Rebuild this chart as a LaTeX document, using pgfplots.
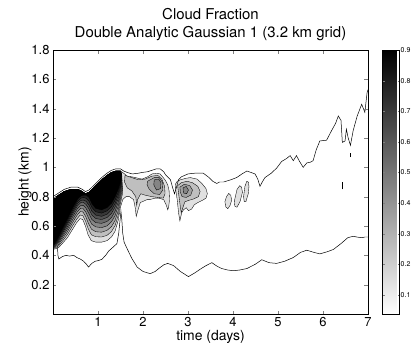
\documentclass[border=0pt]{standalone}
\usepackage{pgfplots}
\pgfplotsset{compat=1.18}
\usepackage{fontspec}
\setmainfont{TeX Gyre Heros}
\begin{document}
\begin{tikzpicture}
\useasboundingbox (-53bp,-35bp) rectangle (360bp,314bp);
\begin{axis}[
  at={(0,0)}, anchor=south west,
  scale only axis, width=315bp, height=264bp,
  xmin=0, xmax=7, ymin=0, ymax=1.8,
  xtick={1,2,3,4,5,6,7},
  ytick={0.2,0.4,0.6,0.8,1,1.2,1.4,1.6,1.8},
  tick align=inside, major tick length=3.5bp,
  axis on top,
  axis line style={line width=0.5pt},
  /pgf/number format/assume math mode=true,
  tick label style={font=\fontsize{13}{13}\selectfont},
  xlabel={time (days)}, ylabel={height (km)},
  xlabel style={at={(axis description cs:0.5,-0.087)}, anchor=center, inner sep=0pt, font=\fontsize{14}{14}\selectfont},
  ylabel style={at={(axis description cs:-0.089,0.5)}, anchor=center, inner sep=0pt, font=\fontsize{14}{14}\selectfont},
  title={Cloud Fraction\\Double Analytic Gaussian 1 (3.2 km grid)},
  title style={at={(axis description cs:0.5,1.072)}, anchor=center, align=center, inner sep=0pt, font=\fontsize{15}{18}\selectfont},
  colorbar,
  colormap={revgray}{gray(0cm)=(1); gray(1cm)=(0)},
  point meta min=0.038, point meta max=0.9,
  colorbar style={
    at={(parent axis.north east)}, anchor=north west, xshift=6bp,
    scale only axis, width=17bp, height=264bp,
    ytick={0.1,0.2,0.3,0.4,0.5,0.6,0.7,0.8,0.9},
    ytick pos=both, yticklabel pos=right,
    tick align=inside, major tick length=2bp,
    axis line style={line width=0.5pt},
    yticklabel style={font=\fontsize{7}{7}\selectfont, /pgf/number format/assume math mode=true, /pgf/number format/fixed, /pgf/number format/precision=1, /pgf/number format/fixed zerofill, inner sep=1bp},
  },
]
% ---- level 1 (light) : big structure + blob A
\addplot[draw=black, fill=black!12, line width=0.35pt] coordinates {
(0,0.785)(0.10,0.805)(0.25,0.835)(0.40,0.85)(0.55,0.85)(0.65,0.835)(0.72,0.82)(0.80,0.83)(0.90,0.86)(1.00,0.89)(1.10,0.92)(1.20,0.945)(1.30,0.965)(1.40,0.975)(1.50,0.975)
(1.57,0.96)(1.65,0.94)(1.76,0.935)(1.90,0.925)(1.98,0.92)(2.10,0.935)(2.20,0.955)(2.30,0.96)(2.38,0.955)(2.45,0.93)(2.50,0.91)(2.55,0.88)(2.58,0.84)(2.59,0.78)(2.57,0.73)(2.55,0.71)(2.52,0.74)(2.46,0.78)(2.35,0.79)(2.27,0.79)(2.15,0.78)(2.09,0.78)(1.98,0.765)(1.94,0.76)(1.88,0.70)(1.85,0.665)(1.83,0.72)(1.79,0.78)(1.70,0.80)(1.62,0.80)(1.55,0.78)
(1.50,0.73)(1.45,0.64)(1.38,0.565)(1.30,0.525)(1.20,0.50)(1.08,0.49)(0.95,0.49)(0.85,0.50)(0.78,0.54)(0.72,0.60)(0.66,0.645)(0.60,0.65)(0.52,0.62)(0.42,0.57)(0.32,0.52)(0.22,0.485)(0.13,0.455)(0.06,0.445)(0,0.44)
} -- cycle;
% ---- level 2
\addplot[draw=black, fill=black!25, line width=0.35pt] coordinates {
(0,0.785)(0.10,0.805)(0.25,0.835)(0.40,0.85)(0.55,0.85)(0.65,0.835)(0.72,0.82)(0.80,0.83)(0.90,0.86)(1.00,0.89)(1.10,0.92)(1.20,0.945)(1.30,0.965)(1.40,0.975)(1.50,0.975)
(1.547,0.825)(1.50,0.757)(1.45,0.674)(1.38,0.603)(1.30,0.562)(1.20,0.536)(1.08,0.525)(0.95,0.527)(0.853,0.540)(0.783,0.581)(0.723,0.634)(0.663,0.671)(0.603,0.675)(0.525,0.646)(0.425,0.596)(0.322,0.542)(0.217,0.499)(0.127,0.465)(0.058,0.452)(0,0.445)
} -- cycle;
% ---- level 3
\addplot[draw=black, fill=black!37, line width=0.35pt] coordinates {
(0,0.785)(0.10,0.805)(0.25,0.835)(0.40,0.85)(0.55,0.85)(0.65,0.835)(0.72,0.82)(0.80,0.83)(0.90,0.86)(1.00,0.89)(1.10,0.92)(1.20,0.945)(1.30,0.965)(1.40,0.975)(1.50,0.975)
(1.544,0.848)(1.50,0.783)(1.45,0.705)(1.38,0.638)(1.30,0.596)(1.20,0.570)(1.08,0.558)(0.95,0.561)(0.856,0.578)(0.786,0.619)(0.726,0.665)(0.666,0.696)(0.606,0.698)(0.529,0.671)(0.429,0.620)(0.323,0.562)(0.214,0.513)(0.124,0.475)(0.057,0.459)(0,0.449)
} -- cycle;
% ---- level 4
\addplot[draw=black, fill=black!48, line width=0.35pt] coordinates {
(0,0.785)(0.10,0.805)(0.25,0.835)(0.40,0.85)(0.55,0.85)(0.65,0.835)(0.72,0.82)(0.80,0.83)(0.90,0.86)(1.00,0.89)(1.10,0.92)(1.20,0.945)(1.30,0.965)(1.40,0.975)(1.50,0.975)
(1.541,0.870)(1.50,0.807)(1.45,0.735)(1.38,0.671)(1.30,0.629)(1.20,0.601)(1.08,0.589)(0.95,0.594)(0.859,0.613)(0.789,0.655)(0.729,0.695)(0.669,0.719)(0.609,0.720)(0.534,0.694)(0.434,0.642)(0.325,0.581)(0.211,0.526)(0.121,0.484)(0.055,0.465)(0,0.454)
} -- cycle;
% ---- level 5
\addplot[draw=black, fill=black!58, line width=0.35pt] coordinates {
(0,0.785)(0.10,0.805)(0.25,0.835)(0.40,0.85)(0.55,0.85)(0.65,0.835)(0.72,0.82)(0.80,0.83)(0.90,0.86)(1.00,0.89)(1.10,0.92)(1.20,0.945)(1.30,0.965)(1.40,0.975)(1.50,0.975)
(1.538,0.890)(1.50,0.829)(1.45,0.762)(1.38,0.701)(1.30,0.658)(1.20,0.631)(1.08,0.618)(0.95,0.623)(0.862,0.645)(0.792,0.688)(0.732,0.722)(0.672,0.741)(0.612,0.740)(0.537,0.716)(0.437,0.663)(0.326,0.598)(0.208,0.537)(0.118,0.493)(0.054,0.471)(0,0.457)
} -- cycle;
% ---- level 6
\addplot[draw=black, fill=black!68, line width=0.35pt] coordinates {
(0,0.785)(0.10,0.805)(0.25,0.835)(0.40,0.85)(0.55,0.85)(0.65,0.835)(0.72,0.82)(0.80,0.83)(0.90,0.86)(1.00,0.89)(1.10,0.92)(1.20,0.945)(1.30,0.965)(1.40,0.975)(1.50,0.975)
(1.536,0.909)(1.50,0.849)(1.45,0.787)(1.38,0.730)(1.30,0.686)(1.20,0.658)(1.08,0.644)(0.95,0.651)(0.864,0.675)(0.794,0.719)(0.734,0.747)(0.674,0.761)(0.614,0.759)(0.541,0.736)(0.441,0.682)(0.327,0.615)(0.206,0.548)(0.116,0.501)(0.053,0.477)(0,0.461)
} -- cycle;
% ---- level 7
\addplot[draw=black, fill=black!78, line width=0.35pt] coordinates {
(0,0.785)(0.10,0.805)(0.25,0.835)(0.40,0.85)(0.55,0.85)(0.65,0.835)(0.72,0.82)(0.80,0.83)(0.90,0.86)(1.00,0.89)(1.10,0.92)(1.20,0.945)(1.30,0.965)(1.40,0.975)(1.50,0.975)
(1.534,0.924)(1.50,0.866)(1.45,0.808)(1.38,0.753)(1.30,0.709)(1.20,0.680)(1.08,0.666)(0.95,0.674)(0.866,0.700)(0.796,0.744)(0.736,0.768)(0.676,0.777)(0.616,0.774)(0.544,0.752)(0.444,0.698)(0.328,0.628)(0.204,0.557)(0.114,0.507)(0.052,0.481)(0,0.464)
} -- cycle;
% ---- level 8
\addplot[draw=black, fill=black!88, line width=0.35pt] coordinates {
(0,0.785)(0.10,0.805)(0.25,0.835)(0.40,0.85)(0.55,0.85)(0.65,0.835)(0.72,0.82)(0.80,0.83)(0.90,0.86)(1.00,0.89)(1.10,0.92)(1.20,0.945)(1.30,0.965)(1.40,0.975)(1.50,0.975)
(1.532,0.940)(1.50,0.883)(1.45,0.829)(1.38,0.777)(1.30,0.732)(1.20,0.703)(1.08,0.688)(0.95,0.697)(0.868,0.725)(0.798,0.770)(0.738,0.789)(0.678,0.794)(0.618,0.790)(0.547,0.769)(0.447,0.714)(0.329,0.642)(0.202,0.566)(0.112,0.514)(0.051,0.486)(0,0.467)
} -- cycle;
% ---- level 9
\addplot[draw=black, fill=black, line width=0.35pt] coordinates {
(0,0.785)(0.10,0.805)(0.25,0.835)(0.40,0.85)(0.55,0.85)(0.65,0.835)(0.72,0.82)(0.80,0.83)(0.90,0.86)(1.00,0.89)(1.10,0.92)(1.20,0.945)(1.30,0.965)(1.40,0.975)(1.50,0.975)
(1.53,0.955)(1.50,0.90)(1.45,0.85)(1.38,0.80)(1.30,0.755)(1.20,0.725)(1.08,0.71)(0.95,0.72)(0.87,0.75)(0.80,0.795)(0.74,0.81)(0.68,0.81)(0.62,0.805)(0.55,0.785)(0.45,0.73)(0.33,0.655)(0.20,0.575)(0.11,0.52)(0.05,0.49)(0,0.47)
} -- cycle;
% ---- blob A inner levels
\addplot[draw=black, fill=black!25, line width=0.35pt] coordinates {
(1.60,0.945)(1.75,0.93)(1.90,0.915)(2.05,0.92)(2.20,0.94)(2.33,0.945)(2.42,0.92)(2.48,0.87)(2.49,0.82)(2.45,0.79)(2.33,0.795)(2.20,0.80)(2.05,0.81)(1.95,0.82)(1.88,0.78)(1.86,0.74)(1.84,0.80)(1.75,0.84)(1.65,0.86)(1.59,0.90)
} -- cycle;
\addplot[draw=black, fill=black!37, line width=0.35pt] coordinates {
(2.10,0.905)(2.25,0.93)(2.36,0.93)(2.43,0.90)(2.44,0.845)(2.37,0.815)(2.25,0.82)(2.14,0.85)(2.09,0.88)
} -- cycle;
\addplot[draw=black, fill=black!48, line width=0.35pt] coordinates {
(2.25,0.915)(2.35,0.92)(2.40,0.895)(2.39,0.855)(2.30,0.845)(2.24,0.88)
} -- cycle;
% ---- blob B
\addplot[draw=black, fill=black!12, line width=0.35pt] coordinates {
(2.72,0.885)(2.76,0.905)(2.83,0.915)(2.95,0.925)(3.05,0.93)(3.20,0.92)(3.31,0.89)(3.40,0.855)(3.43,0.82)(3.40,0.79)(3.32,0.775)(3.22,0.76)(3.14,0.745)(3.08,0.715)(3.01,0.705)(2.96,0.725)(2.90,0.71)(2.86,0.69)(2.82,0.635)(2.79,0.69)(2.76,0.78)(2.73,0.84)
} -- cycle;
\addplot[draw=black, fill=black!25, line width=0.35pt] coordinates {
(2.77,0.875)(2.85,0.895)(2.98,0.905)(3.10,0.895)(3.22,0.87)(3.27,0.835)(3.23,0.80)(3.13,0.785)(3.02,0.775)(2.93,0.765)(2.88,0.72)(2.85,0.69)(2.83,0.73)(2.80,0.80)
} -- cycle;
\addplot[draw=black, fill=black!37, line width=0.35pt] coordinates {
(2.82,0.865)(2.92,0.885)(3.04,0.875)(3.10,0.845)(3.06,0.81)(2.96,0.795)(2.87,0.80)(2.83,0.83)
} -- cycle;
\addplot[draw=black, fill=black!48, line width=0.35pt] coordinates {
(2.89,0.86)(2.96,0.87)(3.01,0.845)(2.97,0.82)(2.90,0.825)
} -- cycle;
% ---- ellipses
\addplot[draw=black, fill=black!12, line width=0.35pt] coordinates {
(3.97,0.775)(3.95,0.81)(3.905,0.822)(3.855,0.80)(3.82,0.765)(3.84,0.73)(3.885,0.718)(3.935,0.74)
} -- cycle;
\addplot[draw=black, fill=black!12, line width=0.35pt] coordinates {
(4.21,0.83)(4.19,0.865)(4.15,0.875)(4.09,0.85)(4.03,0.77)(4.04,0.735)(4.09,0.728)(4.16,0.77)
} -- cycle;
\addplot[draw=black, fill=black!12, line width=0.35pt] coordinates {
(4.355,0.87)(4.34,0.90)(4.305,0.905)(4.265,0.87)(4.235,0.80)(4.25,0.765)(4.285,0.765)(4.34,0.82)
} -- cycle;
% ---- outer contour: top envelope
\addplot[black, line width=0.5pt] coordinates {
(0.00,0.80)(0.10,0.82)(0.25,0.85)(0.40,0.865)(0.55,0.865)(0.65,0.85)(0.72,0.835)(0.80,0.845)(0.90,0.875)(1.00,0.905)(1.10,0.935)(1.20,0.96)(1.30,0.98)(1.40,0.99)(1.50,0.99)(1.57,0.975)(1.65,0.965)(1.76,0.955)(1.90,0.96)(1.98,0.965)(2.10,0.97)(2.20,0.98)(2.30,0.99)(2.38,0.99)(2.46,0.97)(2.50,0.95)(2.61,0.915)(2.66,0.86)(2.70,0.82)(2.74,0.86)(2.79,0.915)(2.85,0.935)(3.00,0.955)(3.15,0.96)(3.34,0.96)(3.45,0.935)(3.55,0.905)(3.64,0.89)(3.70,0.90)(3.79,0.90)(3.95,0.915)(4.08,0.93)(4.20,0.955)(4.31,0.975)(4.40,0.965)(4.49,0.955)(4.55,0.92)(4.60,0.87)(4.65,0.90)(4.71,0.93)(4.85,0.96)(4.97,0.995)(5.08,1.04)(5.19,1.06)(5.27,1.08)(5.34,1.045)(5.41,1.08)(5.48,1.04)(5.56,1.00)(5.64,1.03)(5.72,1.035)(5.78,1.045)(5.85,1.12)(5.93,1.18)(6.08,1.185)(6.19,1.25)(6.28,1.30)(6.34,1.35)(6.40,1.32)(6.43,1.17)(6.49,1.18)(6.52,1.26)(6.56,1.20)(6.61,1.15)(6.67,1.25)(6.76,1.35)(6.86,1.43)(6.93,1.375)(6.98,1.51)(7.00,1.53)
};
% ---- outer contour: lower envelope
\addplot[black, line width=0.5pt] coordinates {
(0.10,0.455)(0.11,0.40)(0.13,0.375)(0.20,0.39)(0.28,0.40)(0.37,0.395)(0.46,0.40)(0.53,0.385)(0.61,0.374)(0.68,0.36)(0.74,0.34)(0.79,0.32)(0.86,0.345)(0.94,0.36)(1.02,0.365)(1.09,0.374)(1.17,0.40)(1.24,0.43)(1.35,0.46)(1.42,0.48)(1.46,0.55)(1.49,0.64)(1.51,0.70)(1.53,0.64)(1.55,0.55)(1.58,0.49)(1.64,0.45)(1.75,0.38)(1.87,0.32)(2.00,0.29)(2.16,0.275)(2.27,0.29)(2.35,0.31)(2.46,0.335)(2.55,0.345)(2.68,0.33)(2.83,0.29)(3.01,0.255)(3.15,0.28)(3.27,0.305)(3.40,0.33)(3.53,0.35)(3.65,0.325)(3.75,0.31)(3.88,0.30)(4.01,0.295)(4.15,0.30)(4.31,0.31)(4.50,0.34)(4.64,0.37)(4.80,0.35)(4.97,0.345)(5.15,0.36)(5.34,0.385)(5.50,0.42)(5.64,0.435)(5.80,0.42)(5.93,0.41)(6.10,0.425)(6.23,0.44)(6.40,0.48)(6.55,0.52)(6.67,0.53)(6.75,0.525)(6.86,0.52)(6.93,0.525)(7.00,0.525)
};
% ---- small isolated contours
\addplot[black, line width=0.9pt] coordinates {(6.60,1.07)(6.60,1.10)};
\addplot[black, line width=0.9pt] coordinates {(6.43,0.85)(6.43,0.90)};
\end{axis}
\end{tikzpicture}
\end{document}
